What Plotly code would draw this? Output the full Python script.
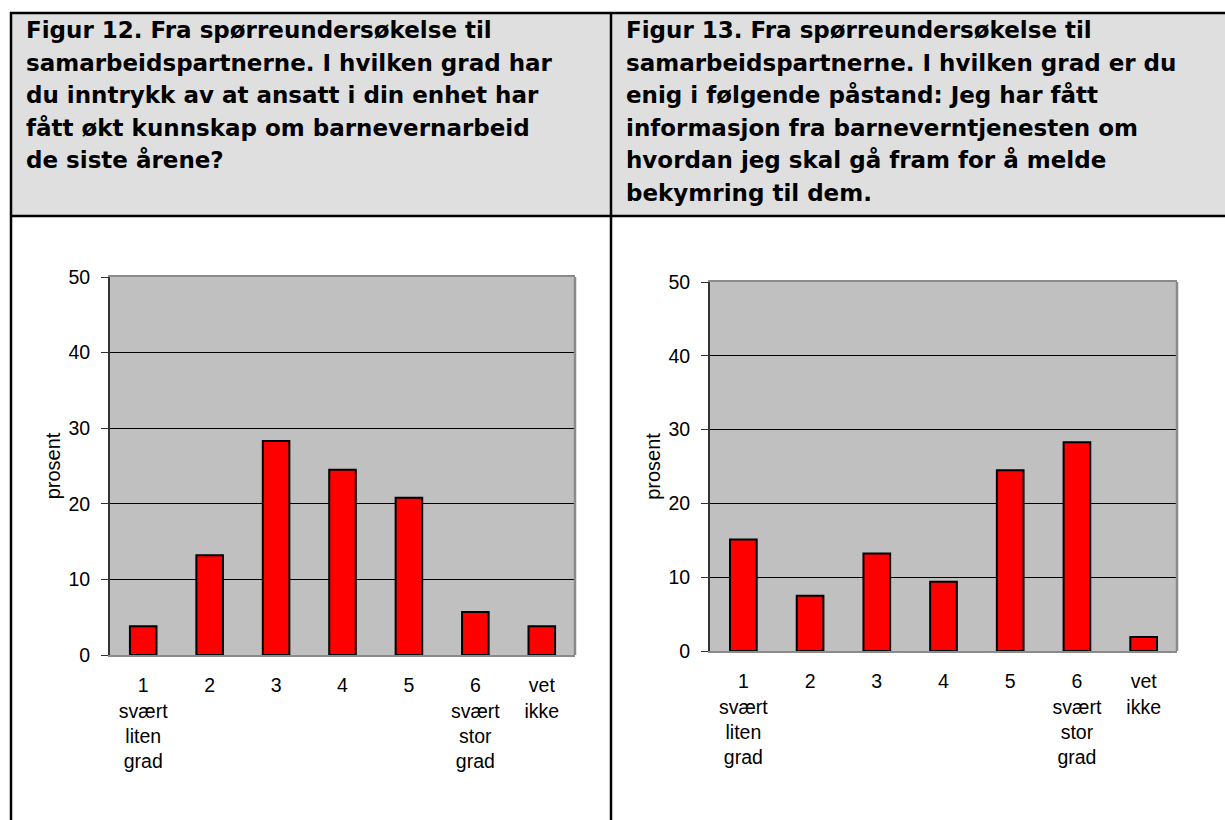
import plotly.graph_objects as go
from plotly.subplots import make_subplots

# ---- data ----
categories = ["1", "2", "3", "4", "5", "6", "vet ikke"]
tick_labels = ["1<br>svært<br>liten<br>grad", "2", "3", "4", "5",
               "6<br>svært<br>stor<br>grad", "vet<br>ikke"]
fig12_values = [3.8, 13.2, 28.3, 24.5, 20.8, 5.7, 3.8]
fig13_values = [15.1, 7.5, 13.2, 9.4, 24.5, 28.3, 1.9]
y_ticks = [0, 10, 20, 30, 40, 50]
y_title = "prosent"
title12 = ["Figur 12. Fra spørreundersøkelse til",
           "samarbeidspartnerne. I hvilken grad har",
           "du inntrykk av at ansatt i din enhet har",
           "fått økt kunnskap om barnevernarbeid",
           "de siste årene?"]
title13 = ["Figur 13. Fra spørreundersøkelse til",
           "samarbeidspartnerne. I hvilken grad er du",
           "enig i følgende påstand: Jeg har fått",
           "informasjon fra barneverntjenesten om",
           "hvordan jeg skal gå fram for å melde",
           "bekymring til dem."]

W, H = 1225, 820
CHART_FONT = "Liberation Sans, Arial, sans-serif"
TITLE_FONT = "DejaVu Sans"


def px(x):
    return x / W


def py(y):
    return 1 - y / H


fig = make_subplots(rows=1, cols=2)

for col, vals in ((1, fig12_values), (2, fig13_values)):
    fig.add_trace(go.Bar(x=categories, y=vals, marker=dict(color="#FF0000",
                         line=dict(color="#000000", width=2)),
                         showlegend=False, hoverinfo="skip"), row=1, col=col)

fig.update_layout(
    width=W, height=H,
    margin=dict(l=0, r=0, t=0, b=0, pad=0, autoexpand=False),
    paper_bgcolor="white",
    plot_bgcolor="#C0C0C0",
    bargap=0.6,
    showlegend=False,
    font=dict(family=CHART_FONT, size=19.5, color="#000000"),
)

domains = {1: ([px(110), px(575)], [py(655), py(277)]),
           2: ([px(710), px(1177)], [py(651), py(282)])}

for col in (1, 2):
    xd, yd = domains[col]
    fig.update_xaxes(domain=xd, row=1, col=col, automargin=False,
                     tickmode="array", tickvals=categories,
                     ticktext=tick_labels,
                     tickfont=dict(size=19.5, family=CHART_FONT),
                     ticks="", showline=True, mirror=True,
                     linecolor="#8a8a8a", linewidth=2,
                     showgrid=False, ticklabelstandoff=12, fixedrange=True)
    fig.update_yaxes(domain=yd, row=1, col=col, range=[0, 50],
                     automargin=False,
                     tickmode="array", tickvals=y_ticks,
                     tickfont=dict(size=19.5, family=CHART_FONT),
                     showline=True, linecolor="#333333", linewidth=2,
                     ticks="outside", ticklen=7, tickcolor="#333333",
                     tickwidth=1, ticklabelstandoff=7,
                     showgrid=True, gridcolor="#000000", gridwidth=1,
                     zeroline=False, fixedrange=True,
                     title=dict(text=y_title, standoff=2,
                                font=dict(size=20, family=CHART_FONT)))

shapes = []
# right border of the plot areas
for xr, yr in (("x domain", "y domain"), ("x2 domain", "y2 domain")):
    shapes.append(dict(type="line", xref=xr, yref=yr, x0=1, x1=1, y0=0, y1=1,
                       line=dict(color="#8a8a8a", width=2.5), layer="above"))
# table header fill + borders
shapes.append(dict(type="rect", xref="paper", yref="paper",
                   x0=px(11), x1=1, y0=py(216), y1=py(13),
                   fillcolor="#DFDFDF", line=dict(width=0), layer="below"))
border = dict(color="#000000", width=2.5)
shapes += [
    dict(type="line", xref="paper", yref="paper", x0=px(10), x1=1,
         y0=py(13), y1=py(13), line=border),
    dict(type="line", xref="paper", yref="paper", x0=px(10), x1=1,
         y0=py(216), y1=py(216), line=border),
    dict(type="line", xref="paper", yref="paper", x0=px(11), x1=px(11),
         y0=0, y1=py(12), line=border),
    dict(type="line", xref="paper", yref="paper", x0=px(611), x1=px(611),
         y0=0, y1=py(12), line=border),
]
fig.update_layout(shapes=shapes)

for lines, x0 in ((title12, 24), (title13, 624)):
    fig.add_annotation(xref="paper", yref="paper", x=px(x0), y=py(15),
                       xanchor="left", yanchor="top", align="left",
                       showarrow=False,
                       text="<b>" + "<br>".join(
                           f'<span style="font-size:23px">{l}</span>'
                           for l in lines) + "</b>",
                       font=dict(family=TITLE_FONT, size=25, color="#000000"))

fig.write_html("out.html", config={"displayModeBar": False},
               post_script="document.body.style.margin='0';"
                           "document.body.style.overflow='hidden';")
